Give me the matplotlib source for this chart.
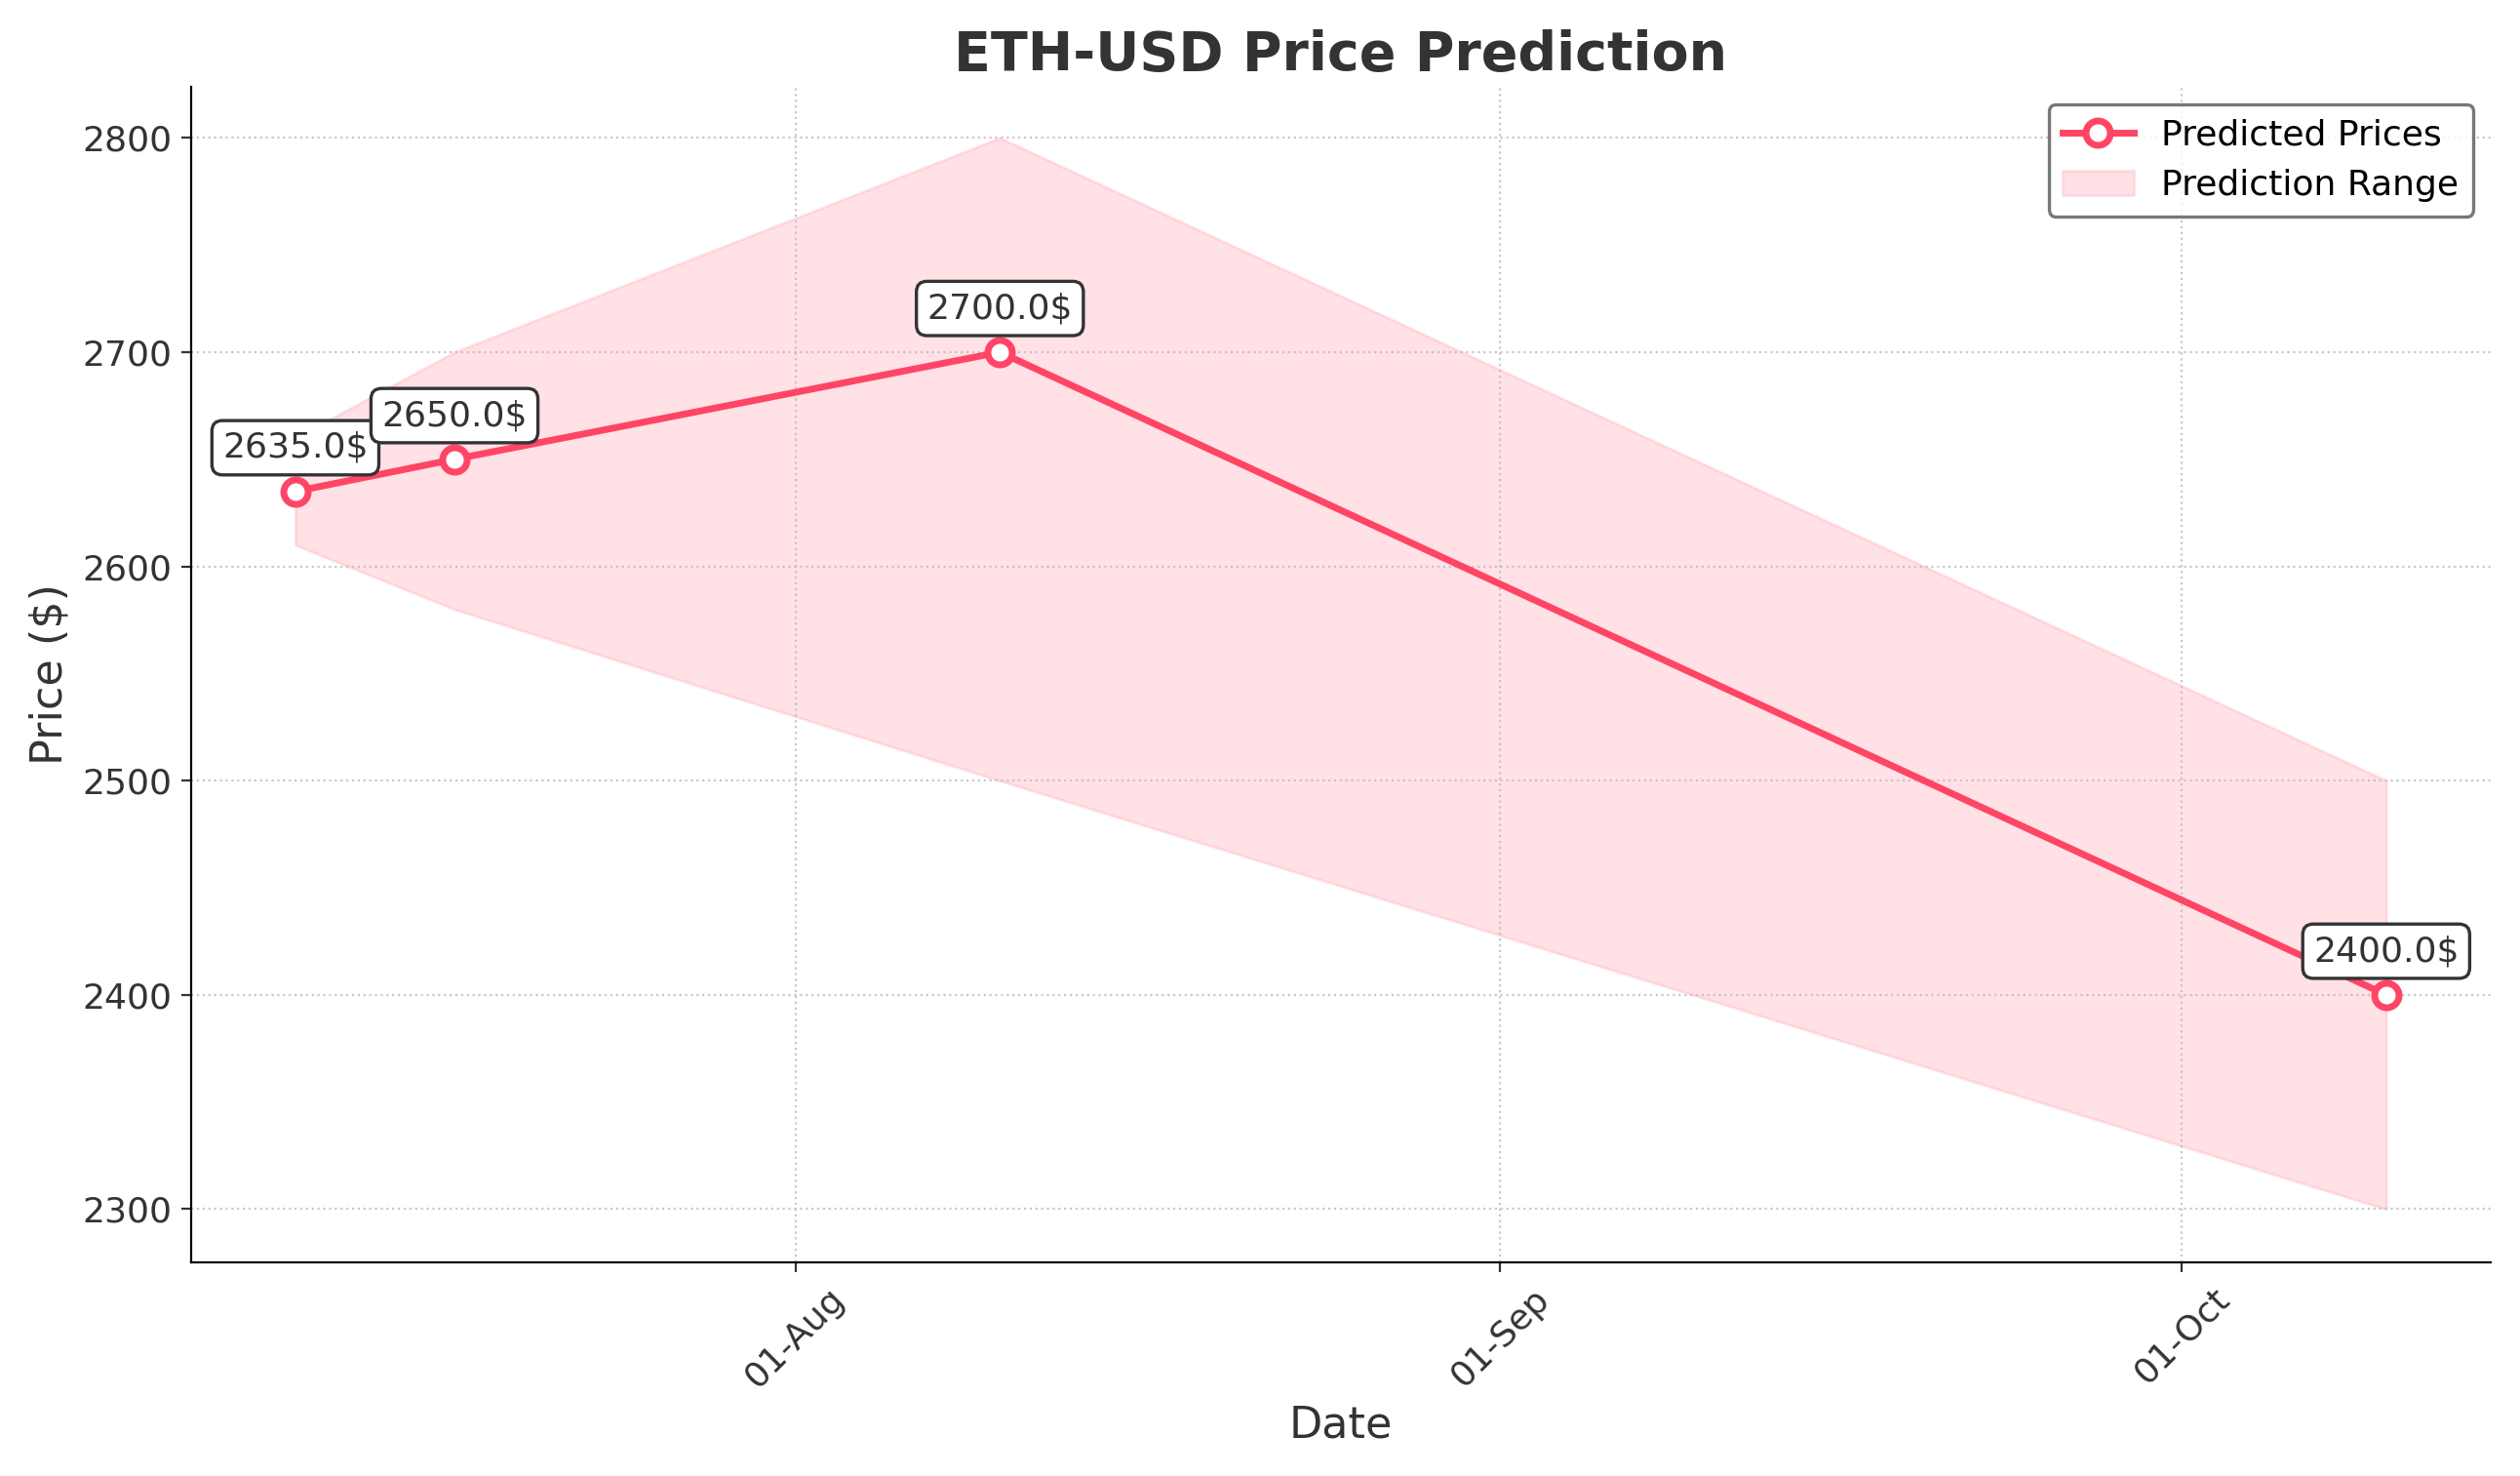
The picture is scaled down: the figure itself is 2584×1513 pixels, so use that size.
import matplotlib
matplotlib.use("Agg")
import matplotlib.pyplot as plt
import matplotlib.dates as mdates
import pandas as pd

dates = ["2024-07-10", "2024-07-17", "2024-08-10", "2024-10-10"]
predicted = [2635.0, 2650.0, 2700.0, 2400.0]
lower = [2610, 2580, 2500, 2300]
upper = [2660, 2700, 2800, 2500]

d = pd.to_datetime(dates)
fig, ax = plt.subplots(figsize=(12.92, 7.565), dpi=200)
color = "#FF4566"
ax.plot(d, predicted, color=color, lw=2.5, marker="o", ms=9, mfc="white", mec=color, mew=2.5,
        label="Predicted Prices")
ax.fill_between(d, lower, upper, color="#FFB6C1", alpha=0.4, label="Prediction Range")
for x, y in zip(d, predicted):
    ax.annotate(f"{y}$", (x, y), xytext=(0, 10), textcoords="offset points", ha="center",
                va="bottom", fontsize=13, color="#333333",
                bbox=dict(boxstyle="round,pad=0.3", fc="white", ec="#333333", lw=1.2))
ax.set_title("ETH-USD Price Prediction", fontsize=20, fontweight="bold", color="#333333")
ax.set_xlabel("Date", fontsize=16, color="#333333")
ax.set_ylabel("Price ($)", fontsize=16, color="#333333")
ax.xaxis.set_major_locator(mdates.MonthLocator())
ax.xaxis.set_major_formatter(mdates.DateFormatter("%d-%b"))
plt.setp(ax.get_xticklabels(), rotation=45)
ax.tick_params(labelsize=13, colors="#333333")
ax.set_ylim(2275, 2824)
ax.set_yticks([2300, 2400, 2500, 2600, 2700, 2800])
ax.grid(True, linestyle=":", color="#bbbbbb", alpha=0.8)
for s in ["top", "right"]:
    ax.spines[s].set_visible(False)
leg = ax.legend(loc="upper right", fontsize=13, frameon=True, edgecolor="#555555")
leg.get_frame().set_linewidth(1.2)
fig.tight_layout()
fig.savefig("out.png", dpi=200)
